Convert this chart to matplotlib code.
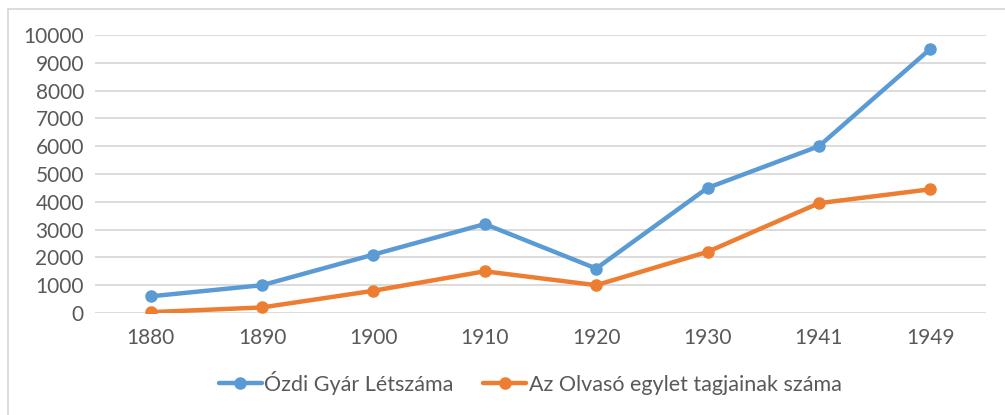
import matplotlib.pyplot as plt
from matplotlib.lines import Line2D

years = ["1880", "1890", "1900", "1910", "1920", "1930", "1941", "1949"]
gyar_letszam = [600, 1000, 2100, 3200, 1600, 4500, 6000, 9500]
olvaso_tagok = [30, 200, 800, 1500, 1000, 2200, 3950, 4450]
y_ticks = list(range(0, 10001, 1000))

plt.rcParams['font.family'] = ['Lato', 'DejaVu Sans']

fig = plt.figure(figsize=(10.05, 4.15), dpi=100)
W, H = 1005, 415
ax = fig.add_axes([95 / W, (H - 313) / H, (986 - 95) / W, (313 - 35) / H])

x = list(range(len(years)))
ax.plot(x, gyar_letszam, color='#5B9BD5', lw=3.2, marker='o', ms=8,
        label='Ózdi Gyár Létszáma', solid_capstyle='round', zorder=3)
ax.plot(x, olvaso_tagok, color='#ED7D31', lw=3.2, marker='o', ms=8,
        label='Az Olvasó egylet tagjainak száma', solid_capstyle='round', zorder=3)

ax.set_xlim(-0.5, len(years) - 0.5)
ax.set_ylim(0, 10000)
ax.set_xticks(x)
ax.set_xticklabels(years)
ax.set_yticks(y_ticks)
ax.grid(axis='y', color='#D9D9D9', lw=1.3)
ax.set_axisbelow(True)
for s in ax.spines.values():
    s.set_visible(False)
ax.tick_params(length=0, labelsize=15, colors='#595959', pad=8)
ax.tick_params(axis='x', pad=11)

leg = fig.legend(loc='center', bbox_to_anchor=(530 / W, (H - 383) / H), ncol=2,
                 frameon=False, fontsize=15.5, handlelength=2.0,
                 columnspacing=1.4, handletextpad=0.1)
for t in leg.get_texts():
    t.set_color('#595959')

# chart border (left and top edges visible)
fig.add_artist(Line2D([8 / W, 8 / W], [0, (H - 9) / H], color='#D9D9D9', lw=1.3,
                      transform=fig.transFigure))
fig.add_artist(Line2D([8 / W, 1], [(H - 9) / H, (H - 9) / H], color='#D9D9D9', lw=1.3,
                      transform=fig.transFigure))

fig.savefig('out.png', dpi=100)
